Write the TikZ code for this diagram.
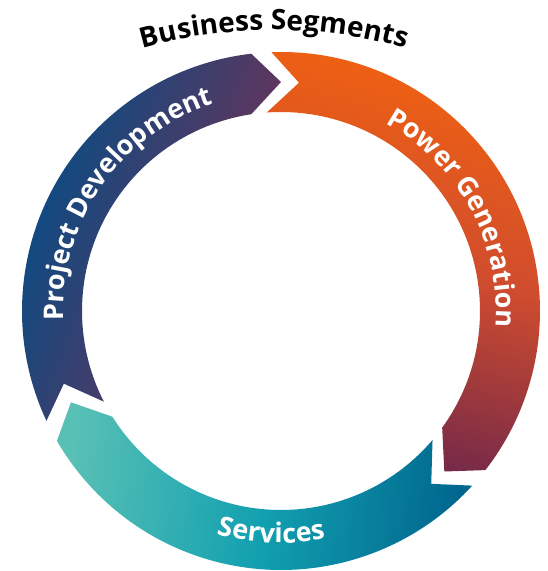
\documentclass[tikz,border=0pt]{standalone}
\usepackage{fontspec}
\setmainfont{Open Sans}
\usetikzlibrary{decorations.text}
\definecolor{pdblue}{HTML}{004E88}
\definecolor{pdpurple}{HTML}{7C2E50}
\definecolor{pgorange}{HTML}{F06210}
\definecolor{pgmid}{HTML}{D04C2E}
\definecolor{pgmaroon}{HTML}{742948}
\definecolor{svlight}{HTML}{58C0B5}
\definecolor{svmid}{HTML}{12A0B0}
\definecolor{svdark}{HTML}{00668E}
\newcommand\ringfont{\fontsize{27}{27}\selectfont\bfseries\color{white}}
\newcommand\titlefont{\fontsize{28}{28}\selectfont\bfseries\color{black}}
\tikzset{
  pdshade/.style={top color=pdblue, bottom color=pdpurple, shading angle=70},
  pgshade/.style={top color=pgorange, bottom color=pgmaroon, middle color=pgmid, shading angle=-15},
  svshade/.style={top color=svlight, bottom color=svdark, middle color=svmid, shading angle=83},
  ringtext/.style={decorate, decoration={text along path, text align=center, text={|\ringfont|#1}}},
  titletext/.style={decorate, decoration={text along path, text align=center, text={|\titlefont|#1}}}
}
\begin{document}
\begin{tikzpicture}[x=1pt,y=1pt]
\useasboundingbox (-281,-260) rectangle (267,311);
% Project Development segment
\shade[pdshade] (205.1:259) arc[start angle=205.1, end angle=96.6, radius=259]
  -- (90:229) -- (98.6:199) arc[start angle=98.6, end angle=207.1, radius=199]
  -- (198.5:229) -- cycle;
% Power Generation segment
\shade[pgshade] (92.1:259) arc[start angle=92.1, end angle=-37.9, radius=259]
  -- (-44.5:229) -- (-35.9:199) arc[start angle=-35.9, end angle=94.1, radius=199]
  -- (85.5:229) -- cycle;
% Services segment
\shade[svshade] (-42.4:259) arc[start angle=-42.4, end angle=-149.9, radius=259]
  -- (-156.5:229) -- (-147.9:199) arc[start angle=-147.9, end angle=-40.4, radius=199]
  -- (-49:229) -- cycle;
% labels
\path[ringtext={Project Development}] (215.25:218) arc[start angle=215.25, end angle=75.25, radius=218];
\path[ringtext={Power Generation}] (98.3:215) arc[start angle=98.3, end angle=-41.7, radius=215];
\path[ringtext={Services}] (232.5:232) arc[start angle=232.5, end angle=302.5, radius=232];
\path[titletext={Business Segments}] (-7,-199) ++(120:480) arc[start angle=120, end angle=60, radius=480];
\end{tikzpicture}
\end{document}
